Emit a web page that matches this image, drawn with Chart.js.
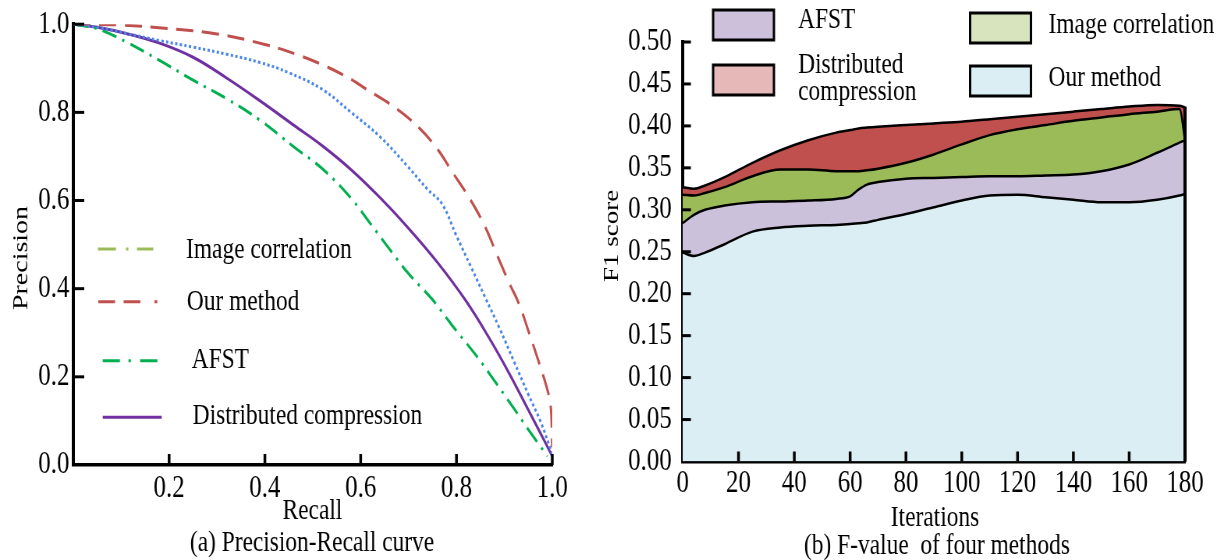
<!DOCTYPE html>
<html>
<head>
<meta charset="utf-8">
<title>Precision-Recall and F1 score</title>
<script src="https://cdn.jsdelivr.net/npm/chart.js@4.4.1/dist/chart.umd.min.js"></script>
<style>
  html, body { margin: 0; padding: 0; background: #fff; overflow: hidden; }
  body { width: 1217px; height: 560px; position: relative; }
  canvas { position: absolute; top: 0; transform-origin: 0 0; }
  #pr-chart { left: 0; }
  #f1-chart { left: 600px; }
</style>
</head>
<body>
<canvas id="pr-chart" width="769" height="560"></canvas>
<canvas id="f1-chart" width="791" height="560"></canvas>
<script>
// (a) precision-recall curves
const recallImage    = [0, 0.05, 0.11, 0.18, 0.25, 0.32, 0.39, 0.45, 0.52, 0.58, 0.64, 0.70, 0.74, 0.77, 0.80, 0.83, 0.86, 0.89, 0.92, 0.95, 0.975, 1.0];
const precisionImage = [1.0, 0.993, 0.979, 0.963, 0.948, 0.932, 0.913, 0.89, 0.852, 0.80, 0.745, 0.675, 0.625, 0.592, 0.52, 0.45, 0.38, 0.31, 0.235, 0.16, 0.10, 0.025];

const recallOurs    = [0, 0.1, 0.2, 0.3, 0.4, 0.47, 0.52, 0.57, 0.62, 0.67, 0.72, 0.76, 0.79, 0.83, 0.86, 0.885, 0.91, 0.93, 0.95, 0.97, 0.99, 0.997, 1.0];
const precisionOurs = [1.0, 0.998, 0.99, 0.978, 0.954, 0.93, 0.908, 0.881, 0.847, 0.812, 0.767, 0.717, 0.667, 0.6, 0.54, 0.476, 0.413, 0.367, 0.305, 0.24, 0.17, 0.13, 0.04];

const recallAfst    = [0, 0.03, 0.06, 0.11, 0.18, 0.25, 0.32, 0.39, 0.46, 0.52, 0.58, 0.62, 0.66, 0.70, 0.75, 0.79, 0.84, 0.88, 0.92, 0.96, 0.99];
const precisionAfst = [1.0, 0.995, 0.986, 0.96, 0.918, 0.873, 0.831, 0.782, 0.722, 0.672, 0.605, 0.548, 0.49, 0.434, 0.375, 0.318, 0.25, 0.19, 0.128, 0.065, 0.02];

const recallDist    = [0, 0.05, 0.11, 0.18, 0.25, 0.32, 0.39, 0.46, 0.52, 0.58, 0.64, 0.70, 0.76, 0.82, 0.87, 0.91, 0.95, 0.975, 1.0];
const precisionDist = [1.0, 0.993, 0.979, 0.957, 0.925, 0.878, 0.826, 0.771, 0.724, 0.67, 0.607, 0.537, 0.46, 0.372, 0.285, 0.208, 0.125, 0.073, 0.02];

// (b) F1 score per iteration, stacked bottom to top
const iterations = [0, 4, 8, 15, 25, 35, 45, 55, 60, 63, 66, 70, 80, 90, 100, 110, 120, 130, 140, 150, 160, 170, 178, 180];
const ourF1   = [0.249, 0.245, 0.249, 0.259, 0.274, 0.279, 0.281, 0.282, 0.283, 0.284, 0.285, 0.288, 0.295, 0.303, 0.311, 0.317, 0.318, 0.315, 0.312, 0.309, 0.309, 0.312, 0.317, 0.319];
const afstF1  = [0.035, 0.049, 0.051, 0.046, 0.035, 0.031, 0.030, 0.031, 0.033, 0.040, 0.045, 0.045, 0.042, 0.035, 0.028, 0.023, 0.022, 0.026, 0.030, 0.037, 0.045, 0.056, 0.063, 0.064];
const imageF1 = [0.034, 0.023, 0.020, 0.022, 0.031, 0.038, 0.037, 0.033, 0.030, 0.022, 0.017, 0.016, 0.019, 0.028, 0.039, 0.049, 0.056, 0.060, 0.064, 0.064, 0.060, 0.049, 0.040, 0.000];
const distF1  = [0.009, 0.008, 0.009, 0.012, 0.016, 0.023, 0.035, 0.046, 0.049, 0.051, 0.051, 0.050, 0.045, 0.037, 0.027, 0.019, 0.015, 0.013, 0.011, 0.010, 0.009, 0.008, 0.004, 0.039];

const FONT = '"Liberation Serif", "Times New Roman", serif';
const SQUEEZE = 0.78; // both panels are drawn wide and narrowed horizontally

Chart.defaults.font.family = FONT;
Chart.defaults.font.size = 32;
Chart.defaults.color = '#000';

const toPoints = (xs, ys) => xs.map((x, i) => ({ x, y: ys[i] }));

// tick marks pointing into the plot area
const inwardTicks = (opts) => ({
  id: 'inwardTicks',
  afterDraw(chart) {
    const { ctx, scales: { x, y } } = chart;
    ctx.save();
    ctx.strokeStyle = '#000';
    ctx.lineWidth = opts.xWidth;
    x.ticks.forEach(t => {
      if (t.value === x.min) return;
      const px = x.getPixelForValue(t.value);
      ctx.beginPath();
      ctx.moveTo(px, y.bottom);
      ctx.lineTo(px, y.bottom - opts.xLength);
      ctx.stroke();
    });
    ctx.lineWidth = opts.yWidth;
    y.ticks.forEach(t => {
      if (t.value === y.min) return;
      const py = y.getPixelForValue(t.value);
      ctx.beginPath();
      ctx.moveTo(x.left, py);
      ctx.lineTo(x.left + opts.yLength, py);
      ctx.stroke();
    });
    ctx.restore();
  }
});

// axis titles and captions
const freeText = (items) => ({
  id: 'freeText',
  afterDraw(chart) {
    const { ctx } = chart;
    items.forEach(t => {
      ctx.save();
      ctx.font = `${t.size || 30}px ${FONT}`;
      ctx.fillStyle = '#000';
      ctx.textAlign = 'center';
      ctx.textBaseline = t.baseline || 'middle';
      ctx.translate(t.x, t.y);
      if (t.rotate) ctx.rotate(t.rotate);
      ctx.fillText(t.text, 0, 0);
      ctx.restore();
    });
  }
});

const lineLegend = (items) => ({
  id: 'lineLegend',
  afterDraw(chart) {
    const { ctx } = chart;
    items.forEach(it => {
      ctx.save();
      ctx.strokeStyle = it.color;
      ctx.lineWidth = 3;
      ctx.setLineDash(it.dash);
      ctx.beginPath();
      ctx.moveTo(it.x0, it.y);
      ctx.lineTo(it.x1, it.y);
      ctx.stroke();
      ctx.setLineDash([]);
      ctx.font = `30px ${FONT}`;
      ctx.fillStyle = '#000';
      ctx.textBaseline = 'alphabetic';
      ctx.fillText(it.text, it.tx, it.ty);
      ctx.restore();
    });
  }
});

const boxLegend = (items) => ({
  id: 'boxLegend',
  afterDraw(chart) {
    const { ctx } = chart;
    items.forEach(it => {
      ctx.save();
      ctx.fillStyle = it.fill;
      ctx.fillRect(it.x, it.y, 78, 30);
      ctx.strokeStyle = '#000';
      ctx.lineWidth = 3;
      ctx.strokeRect(it.x, it.y, 78, 30);
      ctx.font = `30px ${FONT}`;
      ctx.fillStyle = '#000';
      ctx.textBaseline = 'alphabetic';
      it.lines.forEach((line, i) => ctx.fillText(line, it.tx, it.ty[i]));
      ctx.restore();
    });
  }
});

// closing edge on the right side of the stacked areas
const stackEdge = {
  id: 'stackEdge',
  afterDraw(chart) {
    const meta = chart.getDatasetMeta(chart.data.datasets.length - 1);
    const last = meta.data[meta.data.length - 1];
    const { ctx } = chart;
    ctx.save();
    ctx.strokeStyle = '#000';
    ctx.lineWidth = 4;
    ctx.beginPath();
    ctx.moveTo(last.x, last.y - 1);
    ctx.lineTo(last.x, chart.scales.y.bottom);
    ctx.stroke();
    ctx.restore();
  }
};

const curve = (xs, ys, color, dash, width) => ({
  data: toPoints(xs, ys),
  borderColor: color,
  borderWidth: width,
  borderDash: dash,
  pointRadius: 0,
  fill: false,
  tension: 0.4
});

new Chart(document.getElementById('pr-chart'), {
  type: 'line',
  data: {
    datasets: [
      curve(recallImage, precisionImage, '#4a86e8', [3, 3], 3),
      curve(recallOurs, precisionOurs, '#c0504d', [22, 11], 3),
      curve(recallAfst, precisionAfst, '#00b050', [19, 8, 3, 8], 3),
      curve(recallDist, precisionDist, '#7030a0', [], 3)
    ]
  },
  options: {
    responsive: false,
    animation: false,
    layout: { padding: { left: 0, right: 61, top: 24, bottom: 0 } },
    plugins: { legend: { display: false }, tooltip: { enabled: false } },
    scales: {
      x: {
        type: 'linear', min: 0, max: 1,
        grid: { display: false, drawTicks: false },
        border: { color: '#000', width: 3.5 },
        ticks: { stepSize: 0.2, padding: 4, autoSkip: false, callback: v => v === 0 ? '' : v.toFixed(1) },
        afterFit: s => { s.height = 95; }
      },
      y: {
        type: 'linear', min: 0, max: 1,
        grid: { display: false, drawTicks: false },
        border: { color: '#000', width: 4 },
        ticks: { stepSize: 0.2, padding: 5, autoSkip: false, callback: v => v.toFixed(1) },
        afterFit: s => { s.width = 94; }
      }
    }
  },
  plugins: [
    inwardTicks({ xLength: 11, xWidth: 3.5, yLength: 14, yWidth: 3 }),
    lineLegend([
      { text: 'Image correlation', color: '#9bbb59', dash: [23, 13, 3, 11], x0: 125.6, x1: 196.5, y: 249, tx: 238.5, ty: 257.7 },
      { text: 'Our method', color: '#c0504d', dash: [21.5, 11, 21.5, 18], x0: 126, x1: 201.7, y: 301.7, tx: 239.5, ty: 310 },
      { text: 'AFST', color: '#00b050', dash: [22, 11, 3, 12], x0: 131.7, x1: 203, y: 360.7, tx: 245.8, ty: 368.3 },
      { text: 'Distributed compression', color: '#7030a0', dash: [], x0: 131.7, x1: 207.3, y: 417.3, tx: 247, ty: 424 }
    ]),
    freeText([
      { text: 'Recall', x: 400.6, y: 511 },
      { text: 'Precision', x: 28, y: 258, size: 28, rotate: -Math.PI / 2 },
      { text: '(a) Precision-Recall curve', x: 400, y: 551, baseline: 'alphabetic' }
    ])
  ]
});

const area = (label, values, color, fill) => ({
  label,
  data: toPoints(iterations, values),
  backgroundColor: color,
  borderColor: '#000',
  borderWidth: 2.5,
  pointRadius: 0,
  fill,
  cubicInterpolationMode: 'monotone'
});

new Chart(document.getElementById('f1-chart'), {
  type: 'line',
  data: {
    datasets: [
      area('Our method', ourF1, '#daeef3', 'origin'),
      area('AFST', afstF1, '#ccc1da', '-1'),
      area('Image correlation', imageF1, '#9bbb59', '-1'),
      area('Distributed compression', distF1, '#c0504d', '-1')
    ]
  },
  options: {
    responsive: false,
    animation: false,
    layout: { padding: { left: 0, right: 41, top: 42, bottom: 0 } },
    plugins: { legend: { display: false }, tooltip: { enabled: false } },
    scales: {
      x: {
        type: 'linear', min: 0, max: 180, z: 1,
        grid: { display: false, drawTicks: false },
        border: { color: '#000', width: 3.5 },
        ticks: { stepSize: 20, padding: 3, autoSkip: false },
        afterFit: s => { s.height = 98.5; }
      },
      y: {
        type: 'linear', min: 0, max: 0.5, stacked: true, z: 1,
        grid: { display: false, drawTicks: false },
        border: { color: '#000', width: 4 },
        ticks: { stepSize: 0.05, padding: 14, autoSkip: false, callback: v => v.toFixed(2) },
        afterFit: s => { s.width = 106; }
      }
    }
  },
  plugins: [
    stackEdge,
    inwardTicks({ xLength: 10, xWidth: 3.5, yLength: 10.5, yWidth: 3 }),
    boxLegend([
      { fill: '#ccc0da', x: 145, y: 10, lines: ['AFST'], tx: 254, ty: [28.3] },
      { fill: '#e6b9b8', x: 145, y: 65, lines: ['Distributed', 'compression'], tx: 254, ty: [72.7, 100] },
      { fill: '#d7e4bd', x: 474.5, y: 13, lines: ['Image correlation'], tx: 575, ty: [33.3] },
      { fill: '#daeef3', x: 474.5, y: 66, lines: ['Our method'], tx: 575, ty: [86] }
    ]),
    freeText([
      { text: 'Iterations', x: 429.5, y: 518 },
      { text: 'F1 score', x: 16, y: 236, size: 27, rotate: -Math.PI / 2 },
      { text: '(b) F-value  of four methods', x: 432, y: 554, baseline: 'alphabetic' }
    ])
  ]
});

document.querySelectorAll('canvas').forEach(c => {
  c.style.transform = `scaleX(${SQUEEZE})`;
});
</script>
</body>
</html>
